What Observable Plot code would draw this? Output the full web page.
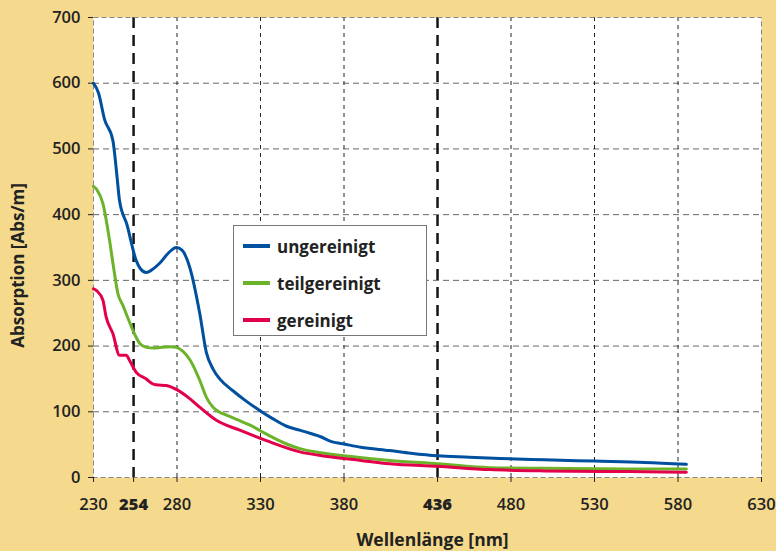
<!DOCTYPE html>
<html><head><meta charset="utf-8">
<script src="https://cdn.jsdelivr.net/npm/d3@7"></script>
<script src="https://cdn.jsdelivr.net/npm/@observablehq/plot@0.6"></script>
<style>
html,body{margin:0;padding:0;background:#F5D98C;}
#wrap{position:relative;width:776px;height:551px;overflow:hidden;background:#F5D98C;}
.legend{position:absolute;left:233px;top:225px;width:192px;height:109px;background:#fff;border:1.5px solid #777;font-family:"Open Sans",sans-serif;font-weight:700;font-size:17px;color:#222;}
.item{position:absolute;left:9px;display:flex;align-items:center;height:22px;}
.sw{width:27px;height:4px;margin-right:7px;}
</style></head>
<body><div id="wrap"></div>
<script>
// Series: wavelength [nm] and absorption [Abs/m]
const ungereinigtNm  = [230,233,236.6,241.6,244,245.6,250,255.6,258,261.6,265,269.6,275,279.6,283,287.6,293.6,297.6,301.6,305.6,313.5,321,329.5,337,345.6,353.5,360,366,372,380,390,407.5,420,436,455,473.5,500,530,560,585];
const ungereinigtAbs = [600,585,545,513,460,421,385,330,318,312,316,326,342,350,346,320,250,190,165,150,132,117,102,90,78,72,67,62,55,51,46,41,37,33,31,29,27,25,23,20];
const teilNm  = [230,232,235.6,239.6,242,244.6,247.6,251,255.6,258,261.6,266,270,276,279.6,283.6,288,293.6,297.6,301.6,305,309.6,316,323.5,333.6,345.6,353.5,365,380,395,407.5,436,467.5,500,550,585];
const teilAbs = [443,438,417,361,320,280,262,240,213,203,198,197,198,199,198,192,178,148,122,107,100,95,88,80,66,51,44,38,33,29,26,21,15,14,13,13];
const gereinigtNm  = [230,232,235.6,237.6,241.6,245.6,249.6,251.6,255.6,261.6,265,267.6,273.6,279.6,287.6,293.6,303.6,317.6,333.6,353.5,370,390,407.5,436,467.5,500,550,585];
const gereinigtAbs = [287,284,270,244,219,186,186,178,160,150,143,141,140,134,120,107,87,72,56,39,32,26,21,17,12,10,9,8];

const seriesNames  = ["ungereinigt", "teilgereinigt", "gereinigt"];
const seriesColors = ["#0050A0", "#6BB42A", "#E2004B"];

const xTicks   = [230, 280, 330, 380, 480, 530, 580, 630];
const markerNm = [254, 436];
const xGrid    = [280, 330, 380, 480, 530, 580];
const yTicks   = [0, 100, 200, 300, 400, 500, 600, 700];
const yGrid    = [100, 200, 300, 400, 500, 600];

const toRows = (xs, ys) => xs.map((x, i) => ({x, y: ys[i]}));
const rows = [
  toRows(ungereinigtNm, ungereinigtAbs),
  toRows(teilNm, teilAbs),
  toRows(gereinigtNm, gereinigtAbs)
];

const chart = Plot.plot({
  width: 776, height: 551,
  marginLeft: 93, marginRight: 15, marginTop: 17, marginBottom: 74,
  style: {background: "transparent", fontFamily: "'Open Sans', sans-serif", fontSize: "16.5px", color: "#222"},
  x: {domain: [230, 630]},
  y: {domain: [0, 700]},
  marks: [
    Plot.frame({fill: "white"}),
    Plot.ruleY(yGrid, {stroke: "#666", strokeDasharray: "6,4"}),
    Plot.ruleX(xGrid, {stroke: "#222", strokeDasharray: "4,4"}),
    Plot.ruleX(markerNm, {stroke: "#151515", strokeWidth: 2.5, strokeDasharray: "11,7"}),
    Plot.frame({stroke: "#888", strokeDasharray: "5,3"}),
    ...rows.map((r, i) => Plot.line(r, {x: "x", y: "y", stroke: seriesColors[i], strokeWidth: 3, curve: "monotone-x"})),
    Plot.axisY(yTicks, {tickSize: 5, tickPadding: 8, label: null, fontSize: 16.5, fontWeight: 600}),
    Plot.axisX(xTicks, {tickSize: 5, tickPadding: 16, label: null, fontSize: 16.5, fontWeight: 600}),
    Plot.axisX(markerNm, {tickSize: 5, tickPadding: 16, label: null, fontSize: 16.5, fontWeight: 800}),
    Plot.text(["Absorption [Abs/m]"], {text: d => d, frameAnchor: "left", textAnchor: "middle", rotate: -90, dx: -75, dy: 18, fontSize: 17, fontWeight: 700, fill: "#222"}),
    Plot.text(["Wellenlänge [nm]"], {text: d => d, frameAnchor: "bottom", textAnchor: "middle", dx: 5, dy: 68, fontSize: 17.5, fontWeight: 700, fill: "#222"})
  ]
});
const wrap = document.getElementById("wrap");
wrap.appendChild(chart);

const legend = document.createElement("div");
legend.className = "legend";
seriesNames.forEach((n, i) => {
  const it = document.createElement("div");
  it.className = "item";
  it.style.top = (9 + i * 37) + "px";
  it.innerHTML = `<span class="sw" style="background:${seriesColors[i]}"></span><span>${n}</span>`;
  legend.appendChild(it);
});
wrap.appendChild(legend);
</script>
</body></html>
